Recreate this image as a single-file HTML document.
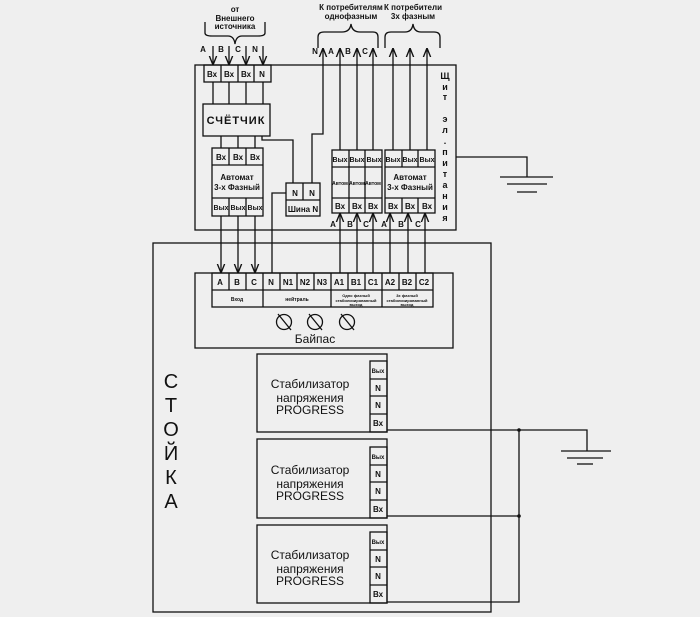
<!DOCTYPE html>
<html><head><meta charset="utf-8"><style>
html,body{margin:0;padding:0;background:#efefef}
svg{display:block}
text{font-family:"Liberation Sans","DejaVu Sans",sans-serif;fill:#111}
</style></head><body>
<svg width="700" height="617" viewBox="0 0 700 617" xmlns="http://www.w3.org/2000/svg">
<defs>
<marker id="a" viewBox="0 0 10 10" refX="10" refY="5" markerWidth="7" markerHeight="7" orient="auto"><path d="M0,1 L10,5 L0,9" fill="none" stroke="#111" stroke-width="1.5"/></marker>
</defs>
<rect width="700" height="617" fill="#efefef"/>
<g fill="none" stroke="#111" stroke-width="1.3">
<!-- main board -->
<rect x="195" y="65" width="261" height="165"/>
<!-- input terminals -->
<rect x="204" y="65" width="67" height="17"/>
<line x1="221" y1="65" x2="221" y2="82"/><line x1="238" y1="65" x2="238" y2="82"/><line x1="254" y1="65" x2="254" y2="82"/>
<!-- input arrows -->
<line x1="213" y1="46" x2="213" y2="65" marker-end="url(#a)"/>
<line x1="229" y1="46" x2="229" y2="65" marker-end="url(#a)"/>
<line x1="246" y1="46" x2="246" y2="65" marker-end="url(#a)"/>
<line x1="263" y1="46" x2="263" y2="65" marker-end="url(#a)"/>
<!-- brace left -->
<path d="M205,22 V33 Q205,36 212,36 H228 Q234,36 235,44 Q236,36 242,36 H258 Q265,36 265,33 V22"/>
<!-- to meter -->
<line x1="213" y1="82" x2="213" y2="104"/><line x1="229" y1="82" x2="229" y2="104"/><line x1="246" y1="82" x2="246" y2="104"/><line x1="263" y1="82" x2="263" y2="104"/>
<rect x="203" y="104" width="67" height="32"/>
<line x1="221" y1="136" x2="221" y2="148"/><line x1="238" y1="136" x2="238" y2="148"/><line x1="255" y1="136" x2="255" y2="148"/>
<!-- left breaker -->
<rect x="212" y="148" width="51" height="68"/>
<line x1="212" y1="165" x2="263" y2="165"/><line x1="212" y1="198" x2="263" y2="198"/>
<line x1="229" y1="148" x2="229" y2="165"/><line x1="246" y1="148" x2="246" y2="165"/>
<line x1="229" y1="198" x2="229" y2="216"/><line x1="246" y1="198" x2="246" y2="216"/>
<!-- meter to shina -->
<polyline points="262,136 262,140 293,140 293,183"/>
<rect x="286" y="183" width="34" height="33"/>
<line x1="286" y1="200" x2="320" y2="200"/><line x1="303" y1="183" x2="303" y2="200"/>
<polyline points="286,193 272,193 272,273"/>
<polyline points="312,183 312,134 323,134 323,48" marker-end="url(#a)"/>
<!-- right breakers -->
<rect x="332" y="150" width="50" height="63"/>
<line x1="332" y1="167" x2="382" y2="167"/><line x1="332" y1="198" x2="382" y2="198"/>
<line x1="349" y1="150" x2="349" y2="213"/><line x1="365" y1="150" x2="365" y2="213"/>
<rect x="385" y="150" width="50" height="63"/>
<line x1="385" y1="167" x2="435" y2="167"/><line x1="385" y1="198" x2="435" y2="198"/>
<line x1="402" y1="150" x2="402" y2="167"/><line x1="418" y1="150" x2="418" y2="167"/>
<line x1="402" y1="198" x2="402" y2="213"/><line x1="418" y1="198" x2="418" y2="213"/>
<!-- outputs up -->
<line x1="340" y1="150" x2="340" y2="48" marker-end="url(#a)"/>
<line x1="357" y1="150" x2="357" y2="48" marker-end="url(#a)"/>
<line x1="373" y1="150" x2="373" y2="48" marker-end="url(#a)"/>
<line x1="393" y1="150" x2="393" y2="48" marker-end="url(#a)"/>
<line x1="410" y1="150" x2="410" y2="48" marker-end="url(#a)"/>
<line x1="427" y1="150" x2="427" y2="48" marker-end="url(#a)"/>
<!-- braces right -->
<path d="M318,48 V37 Q318,32 324,32 H342 Q350,32 351,24 Q352,32 360,32 H373 Q378,32 378,37 V48"/>
<path d="M385,48 V37 Q385,32 391,32 H405 Q412,32 413,24 Q414,32 421,32 H434 Q440,32 440,37 V48"/>
<!-- bypass feeds up into breakers -->
<line x1="340" y1="273" x2="340" y2="213" marker-end="url(#a)"/>
<line x1="357" y1="273" x2="357" y2="213" marker-end="url(#a)"/>
<line x1="373" y1="273" x2="373" y2="213" marker-end="url(#a)"/>
<line x1="390" y1="273" x2="390" y2="213" marker-end="url(#a)"/>
<line x1="408" y1="273" x2="408" y2="213" marker-end="url(#a)"/>
<line x1="425" y1="273" x2="425" y2="213" marker-end="url(#a)"/>
<!-- breaker down to bypass -->
<line x1="221" y1="216" x2="221" y2="273" marker-end="url(#a)"/>
<line x1="238" y1="216" x2="238" y2="273" marker-end="url(#a)"/>
<line x1="255" y1="216" x2="255" y2="273" marker-end="url(#a)"/>
<!-- top ground -->
<polyline points="456,157 527,157 527,177"/>
<line x1="500" y1="177" x2="553" y2="177"/><line x1="507" y1="184" x2="547" y2="184"/><line x1="517" y1="192" x2="537" y2="192"/>
<!-- stand -->
<rect x="153" y="243" width="338" height="369"/>
<!-- bypass -->
<rect x="195" y="273" width="258" height="75"/>
<rect x="212" y="273" width="221" height="34"/>
<line x1="212" y1="290" x2="433" y2="290"/>
<g>
<line x1="229" y1="273" x2="229" y2="290"/><line x1="246" y1="273" x2="246" y2="290"/><line x1="263" y1="273" x2="263" y2="307"/>
<line x1="280" y1="273" x2="280" y2="290"/><line x1="297" y1="273" x2="297" y2="290"/><line x1="314" y1="273" x2="314" y2="290"/>
<line x1="331" y1="273" x2="331" y2="307"/><line x1="348" y1="273" x2="348" y2="290"/><line x1="365" y1="273" x2="365" y2="290"/>
<line x1="382" y1="273" x2="382" y2="307"/><line x1="399" y1="273" x2="399" y2="290"/><line x1="416" y1="273" x2="416" y2="290"/>
</g>
<circle cx="284" cy="322" r="7.5"/><line x1="278" y1="314" x2="291" y2="330"/>
<circle cx="315" cy="322" r="7.5"/><line x1="309" y1="314" x2="322" y2="330"/>
<circle cx="347" cy="322" r="7.5"/><line x1="341" y1="314" x2="354" y2="330"/>
<!-- stabilizers -->
<rect x="257" y="354" width="130" height="78"/>
<rect x="370" y="361" width="17" height="71"/>
<line x1="370" y1="379" x2="387" y2="379"/><line x1="370" y1="396" x2="387" y2="396"/><line x1="370" y1="414" x2="387" y2="414"/>
<rect x="257" y="439" width="130" height="79"/>
<rect x="370" y="447" width="17" height="71"/>
<line x1="370" y1="465" x2="387" y2="465"/><line x1="370" y1="482" x2="387" y2="482"/><line x1="370" y1="500" x2="387" y2="500"/>
<rect x="257" y="525" width="130" height="78"/>
<rect x="370" y="532" width="17" height="71"/>
<line x1="370" y1="550" x2="387" y2="550"/><line x1="370" y1="567" x2="387" y2="567"/><line x1="370" y1="585" x2="387" y2="585"/>
<polyline points="387,430 587,430 587,451"/>
<line x1="387" y1="516" x2="519" y2="516"/>
<polyline points="387,602 519,602 519,430"/>
<line x1="561" y1="451" x2="611" y2="451"/><line x1="567" y1="458" x2="603" y2="458"/><line x1="577" y1="464" x2="593" y2="464"/>
</g>
<circle cx="519" cy="430" r="1.8" fill="#111"/><circle cx="519" cy="516" r="1.8" fill="#111"/>
<!-- text -->
<g font-size="8" text-anchor="middle" font-weight="bold">
<text x="235" y="12">от</text><text x="235" y="21">Внешнего</text><text x="235" y="29">источника</text>
<text x="203" y="52">A</text><text x="221" y="52">B</text><text x="238" y="52">C</text><text x="255" y="52">N</text>
<text x="351" y="10">К потребителям</text><text x="351" y="19">однофазным</text>
<text x="413" y="10">К потребители</text><text x="413" y="19">3х фазным</text>
<text x="315" y="54">N</text><text x="331" y="54">A</text><text x="348" y="54">B</text><text x="365" y="54">C</text>
<text x="212" y="77">Вх</text><text x="229" y="77">Вх</text><text x="246" y="77">Вх</text><text x="262" y="77">N</text>
<text x="221" y="160">Вх</text><text x="238" y="160">Вх</text><text x="255" y="160">Вх</text>
<text x="237" y="180">Автомат</text><text x="237" y="190">3-х Фазный</text>
<text x="221" y="210" font-size="7">Вых</text><text x="238" y="210" font-size="7">Вых</text><text x="255" y="210" font-size="7">Вых</text>
<text x="295" y="196">N</text><text x="312" y="196">N</text><text x="303" y="212">Шина N</text>
<text x="340" y="162" font-size="7">Вых</text><text x="357" y="162" font-size="7">Вых</text><text x="374" y="162" font-size="7">Вых</text>
<text x="393" y="162" font-size="7">Вых</text><text x="410" y="162" font-size="7">Вых</text><text x="427" y="162" font-size="7">Вых</text>
<text x="340" y="185" font-size="5">Автом</text><text x="357" y="185" font-size="5">Автом</text><text x="373" y="185" font-size="5">Автом</text>
<text x="410" y="180">Автомат</text><text x="410" y="190">3-х Фазный</text>
<text x="340" y="209">Вх</text><text x="357" y="209">Вх</text><text x="373" y="209">Вх</text>
<text x="393" y="209">Вх</text><text x="410" y="209">Вх</text><text x="427" y="209">Вх</text>
<text x="333" y="227">A</text><text x="350" y="227">B</text><text x="366" y="227">C</text>
<text x="384" y="227">A</text><text x="401" y="227">B</text><text x="418" y="227">C</text>
<text x="220" y="285">A</text><text x="237" y="285">B</text><text x="254" y="285">C</text><text x="271" y="285">N</text>
<text x="288" y="285">N1</text><text x="305" y="285">N2</text><text x="322" y="285">N3</text>
<text x="339" y="285">A1</text><text x="356" y="285">B1</text><text x="373" y="285">C1</text>
<text x="390" y="285">A2</text><text x="407" y="285">B2</text><text x="424" y="285">C2</text>
<text x="237" y="301" font-size="5">Вход</text><text x="297" y="301" font-size="5">нейтраль</text>
<text x="356" y="297" font-size="4">Одно фазный</text><text x="356" y="302" font-size="4">стабилизированный</text><text x="356" y="306" font-size="4">выход</text>
<text x="407" y="297" font-size="4">3х фазный</text><text x="407" y="302" font-size="4">стабилизированный</text><text x="407" y="306" font-size="4">выход</text>
<text x="378" y="373" font-size="6">Вых</text><text x="378" y="391">N</text><text x="378" y="408">N</text><text x="378" y="426">Вх</text>
<text x="378" y="459" font-size="6">Вых</text><text x="378" y="477">N</text><text x="378" y="494">N</text><text x="378" y="512">Вх</text>
<text x="378" y="544" font-size="6">Вых</text><text x="378" y="562">N</text><text x="378" y="579">N</text><text x="378" y="597">Вх</text>
</g>
<text x="236" y="124" font-size="11" font-weight="bold" text-anchor="middle" letter-spacing="1">СЧЁТЧИК</text>
<g font-size="9" font-weight="bold" text-anchor="middle">
<text x="445" y="79">Щ</text><text x="445" y="90">и</text><text x="445" y="100">т</text>
<text x="445" y="122">э</text><text x="445" y="133">л</text><text x="445" y="144">.</text><text x="445" y="155">п</text><text x="445" y="166">и</text><text x="445" y="177">т</text><text x="445" y="188">а</text><text x="445" y="199">н</text><text x="445" y="210">и</text><text x="445" y="221">я</text>
</g>
<text x="315" y="343" font-size="12" text-anchor="middle">Байпас</text>
<g font-size="20" text-anchor="middle" font-weight="normal">
<text x="171" y="388">С</text><text x="171" y="412">Т</text><text x="171" y="436">О</text><text x="171" y="460">Й</text><text x="171" y="484">К</text><text x="171" y="508">А</text>
</g>
<g font-size="12" text-anchor="middle">
<text x="310" y="388">Стабилизатор</text><text x="310" y="402">напряжения</text><text x="310" y="414">PROGRESS</text>
<text x="310" y="474">Стабилизатор</text><text x="310" y="488">напряжения</text><text x="310" y="500">PROGRESS</text>
<text x="310" y="559">Стабилизатор</text><text x="310" y="573">напряжения</text><text x="310" y="585">PROGRESS</text>
</g>
</svg>
</body></html>
